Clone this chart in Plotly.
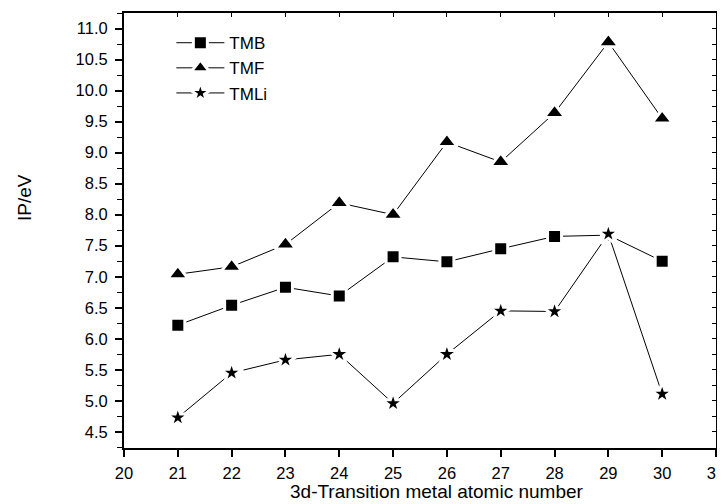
import plotly.graph_objects as go

atomic_number = [21, 22, 23, 24, 25, 26, 27, 28, 29, 30]
tmb = [6.22, 6.54, 6.83, 6.69, 7.32, 7.24, 7.45, 7.65, 7.67, 7.25]
tmf = [7.04, 7.16, 7.52, 8.19, 8.00, 9.17, 8.85, 9.64, 10.78, 9.55]
tmli = [4.73, 5.45, 5.66, 5.75, 4.96, 5.75, 6.45, 6.44, 7.69, 5.11]

x_ticks = list(range(20, 32))
y_ticks = [4.5 + 0.5 * i for i in range(14)]
x_range = [20, 31]
y_range = [4.24, 11.25]

FONT = "Liberation Sans, Arial, sans-serif"

fig = go.Figure()
series = [("TMB", tmb, "square", 14), ("TMF", tmf, "triangle-up", 18), ("TMLi", tmli, "star", 17)]
for name, vals, sym, size in series:
    fig.add_trace(go.Scatter(
        x=atomic_number, y=vals, name=name, mode="lines+markers", legendgroup=name,
        line=dict(color="black", width=1),
        marker=dict(symbol=sym, size=size, color="black", line=dict(color="white", width=3)),
    ))
# helper trace for the mirrored (top/right) axes
fig.add_trace(go.Scatter(x=[None], y=[None], xaxis="x2", yaxis="y2",
                         showlegend=False, hoverinfo="skip"))

axis_common = dict(
    showline=True, linecolor="black", linewidth=2,
    ticks="outside", ticklen=7, tickwidth=1.5, tickcolor="black",
    showgrid=False, zeroline=False, automargin=False,
    ticklabeloverflow="allow",
    tickfont=dict(family=FONT, size=16.5, color="black"),
)

fig.update_layout(
    xaxis=dict(
        range=x_range, tickvals=x_ticks, ticktext=[str(v) for v in x_ticks],
        ticklabelstandoff=2,
        **axis_common,
    ),
    yaxis=dict(
        range=y_range, tickvals=y_ticks, ticktext=[f"{v:.1f}" for v in y_ticks],
        ticklabelstandoff=4,
        minor=dict(dtick=0.25, tick0=4.25, ticks="outside", ticklen=5, tickcolor="black", tickwidth=1),
        **axis_common,
    ),
    xaxis2=dict(
        range=x_range, tickvals=x_ticks, showticklabels=False, overlaying="x", side="top",
        showline=True, linecolor="black", linewidth=2, ticks="inside", ticklen=4,
        tickwidth=1, tickcolor="black", showgrid=False, zeroline=False, automargin=False,
    ),
    yaxis2=dict(
        range=y_range, tickvals=y_ticks, showticklabels=False, overlaying="y", side="right",
        minor=dict(dtick=0.25, tick0=4.25, ticks="inside", ticklen=4, tickcolor="black", tickwidth=1),
        showline=True, linecolor="black", linewidth=2, ticks="inside", ticklen=4,
        tickwidth=1, tickcolor="black", showgrid=False, zeroline=False, automargin=False,
    ),
    annotations=[
        dict(text="3d-Transition metal atomic number", xref="paper", yref="paper",
             x=0.529, y=-0.1, xanchor="center", yanchor="middle", showarrow=False,
             font=dict(family=FONT, size=19, color="black")),
        dict(text="IP/eV", xref="paper", yref="paper", textangle=-90,
             x=-0.169, y=0.577, xanchor="center", yanchor="middle", showarrow=False,
             font=dict(family=FONT, size=19, color="black")),
    ],
    width=717, height=496,
    margin=dict(l=116, r=9, t=5, b=56),
    plot_bgcolor="white", paper_bgcolor="white",
    legend=dict(x=0.08, y=0.972, xanchor="left", yanchor="top", itemwidth=48,
                bgcolor="rgba(0,0,0,0)", tracegroupgap=0, itemsizing="trace",
                font=dict(family=FONT, size=17, color="black")),
    showlegend=True,
)

fig.write_html("out.html")
